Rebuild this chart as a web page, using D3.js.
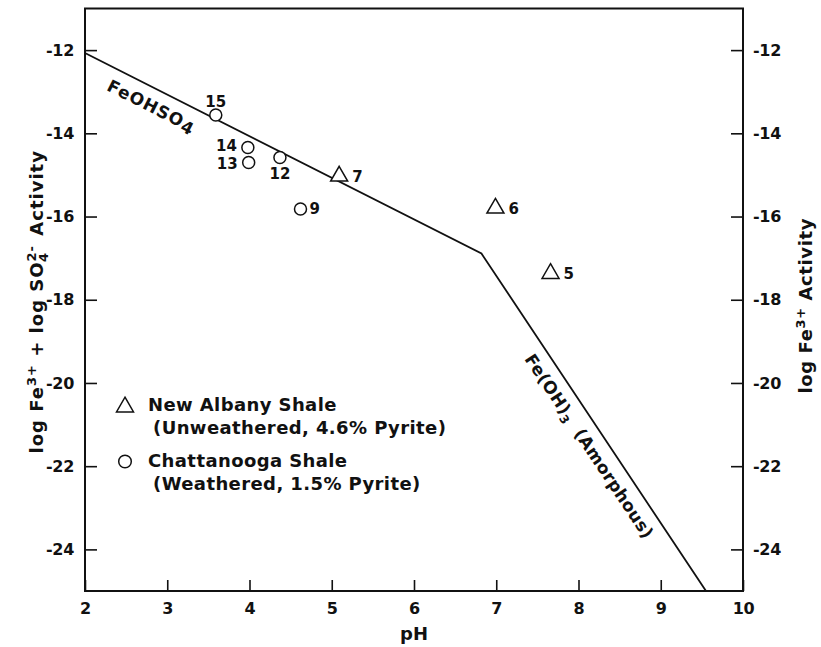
<!DOCTYPE html>
<html>
<head>
<meta charset="utf-8">
<script src="https://cdn.jsdelivr.net/npm/d3@7"></script>
<style>
  body { margin: 0; background: #fff; }
  text { font-family: "DejaVu Sans", sans-serif; font-weight: bold; fill: #111; }
</style>
</head>
<body>
<div id="chart"></div>
<script>
// data
var pH        = [3.59, 3.98, 3.99, 4.37, 4.62, 5.09, 6.99, 7.66];
var activity  = [-13.56, -14.34, -14.70, -14.58, -15.82, -15.03, -15.80, -17.37];
var sampleIds = ["15", "14", "13", "12", "9", "7", "6", "5"];
var shale     = ["C", "C", "C", "C", "C", "N", "N", "N"];   // C = Chattanooga, N = New Albany
var labelSide = ["top", "leftUp", "leftDown", "bottom", "right", "right", "right", "right"];

// stability boundary (FeOHSO4 then Fe(OH)3)
var boundaryPH  = [2, 6.82, 9.55];
var boundaryLog = [-12.07, -16.89, -25];

var xTicks = [2, 3, 4, 5, 6, 7, 8, 9, 10];
var yTicks = [-12, -14, -16, -18, -20, -22, -24];

// set the dimensions and margins of the graph
var margin = {top: 8.5, right: 78, bottom: 56, left: 85},
    width = 821 - margin.left - margin.right,
    height = 647 - margin.top - margin.bottom;

var svg = d3.select("#chart")
  .append("svg")
    .attr("width", 821)
    .attr("height", 647)
  .append("g")
    .attr("transform", "translate(" + margin.left + "," + margin.top + ")");

var x = d3.scaleLinear().domain([2, 10]).range([0, width]);
var y = d3.scaleLinear().domain([-25, -11]).range([height, 0]);

// axes, ticks pointing inside
var xAxis = svg.append("g")
  .attr("transform", "translate(0," + height + ")")
  .call(d3.axisBottom(x).tickValues(xTicks).tickSizeInner(-11).tickSizeOuter(0).tickPadding(12));

var yAxisL = svg.append("g")
  .call(d3.axisLeft(y).tickValues(yTicks).tickSizeInner(-12).tickSizeOuter(0).tickPadding(11)
    .tickFormat(function(d) { return "-" + Math.abs(d); }));

var yAxisR = svg.append("g")
  .attr("transform", "translate(" + width + ",0)")
  .call(d3.axisRight(y).tickValues(yTicks).tickSizeInner(-12).tickSizeOuter(0).tickPadding(10)
    .tickFormat(function(d) { return "-" + Math.abs(d); }));

svg.selectAll(".domain").remove();
svg.selectAll(".tick line").attr("stroke", "#111").attr("stroke-width", 1.6);
svg.selectAll(".tick text").style("font-size", "16px").attr("fill", "#111")
  .style("font-family", "'DejaVu Sans', sans-serif").style("font-weight", "bold")
  .style("letter-spacing", "-0.3px");

// frame
svg.append("rect")
  .attr("width", width)
  .attr("height", height)
  .attr("fill", "none")
  .attr("stroke", "#111")
  .attr("stroke-width", 2);

// boundary line
var boundary = boundaryPH.map(function(d, i) { return [d, boundaryLog[i]]; });
svg.append("path")
  .datum(boundary)
  .attr("fill", "none")
  .attr("stroke", "#111")
  .attr("stroke-width", 1.8)
  .attr("d", d3.line().x(function(d) { return x(d[0]); }).y(function(d) { return y(d[1]); }));

// labels along the line
function angleOf(a, b) {
  return Math.atan2(y(b[1]) - y(a[1]), x(b[0]) - x(a[0])) * 180 / Math.PI;
}
var t1 = svg.append("text")
  .attr("transform", "translate(" + x(2.81) + "," + y(-13.35) + ") rotate(" + angleOf(boundary[0], boundary[1]) + ")")
  .attr("text-anchor", "middle")
  .attr("dy", "0.35em")
  .style("font-size", "17px")
  .style("letter-spacing", "1px");
t1.append("tspan").text("FeOHSO");
t1.append("tspan").attr("dy", 3).text("4");

var t2 = svg.append("text")
  .attr("transform", "translate(" + x(8.13) + "," + y(-21.52) + ") rotate(" + angleOf(boundary[1], boundary[2]) + ")")
  .attr("text-anchor", "middle")
  .attr("dy", "0.35em")
  .style("font-size", "17px")
  .style("letter-spacing", "0.3px");
t2.append("tspan").text("Fe(OH)");
t2.append("tspan").attr("dy", 4).style("font-size", "12px").text("3");
t2.append("tspan").attr("dy", -4).text("\u00a0\u00a0(Amorphous)");

// markers
var tri = d3.symbol().type(d3.symbolTriangle).size(125);
var points = pH.map(function(d, i) {
  return {pH: d, act: activity[i], id: sampleIds[i], shale: shale[i], side: labelSide[i]};
});

svg.selectAll(".pt")
  .data(points)
  .enter()
  .append("path")
    .attr("class", "pt")
    .attr("transform", function(d) { return "translate(" + x(d.pH) + "," + y(d.act) + ")"; })
    .attr("d", function(d) { return d.shale == "N" ? tri() : d3.symbol().type(d3.symbolCircle).size(113)(); })
    .attr("fill", "white")
    .attr("stroke", "#111")
    .attr("stroke-width", 1.5);

var off = {top: [0, -13, "middle"], leftUp: [-11, -1.5, "end"], leftDown: [-11, 1.5, "end"],
           bottom: [0, 16, "middle"], right: [9, 0, "start"]};
svg.selectAll(".lbl")
  .data(points)
  .enter()
  .append("text")
    .attr("class", "lbl")
    .attr("x", function(d) { return x(d.pH) + off[d.side][0] + (d.shale == "N" ? 4 : 0); })
    .attr("y", function(d) { return y(d.act) + off[d.side][1]; })
    .attr("dy", "0.36em")
    .attr("text-anchor", function(d) { return off[d.side][2]; })
    .style("font-size", "15px")
    .text(function(d) { return d.id; });

// legend
var legend = svg.append("g").attr("transform", "translate(40,398.5)");
legend.append("path").attr("d", tri()).attr("fill", "white").attr("stroke", "#111").attr("stroke-width", 1.5);
legend.append("circle").attr("cx", 0).attr("cy", 54.5).attr("r", 6.3).attr("fill", "white").attr("stroke", "#111").attr("stroke-width", 1.5);
var legendLines = [
  ["New Albany Shale", 23, 4],
  ["(Unweathered, 4.6% Pyrite)", 28, 26.5],
  ["Chattanooga Shale", 23, 59.5],
  ["(Weathered, 1.5% Pyrite)", 28, 82.5]
];
legend.selectAll("text.leg")
  .data(legendLines)
  .enter()
  .append("text")
    .attr("class", "leg")
    .attr("x", function(d) { return d[1]; })
    .attr("y", function(d) { return d[2]; })
    .style("font-size", "18px")
    .style("letter-spacing", "0.4px")
    .text(function(d) { return d[0]; });

// axis titles
svg.append("text")
  .attr("x", width / 2)
  .attr("y", height + 49)
  .attr("text-anchor", "middle")
  .style("font-size", "18px")
  .text("pH");

var yl = svg.append("text")
  .attr("transform", "translate(-42," + (height / 2 + 2) + ") rotate(-90)")
  .attr("text-anchor", "middle")
  .style("font-size", "18px")
  .style("letter-spacing", "1px");
yl.append("tspan").text("log Fe");
yl.append("tspan").attr("dy", -7).style("font-size", "13px").text("3+");
yl.append("tspan").attr("dy", 7).text(" + log SO");
yl.append("tspan").attr("dy", -7).style("font-size", "13px").text("2-");
yl.append("tspan").attr("dx", -17).attr("dy", 12).style("font-size", "13px").text("4");
yl.append("tspan").attr("dx", 9).attr("dy", -5).text(" Activity");

var yr = svg.append("text")
  .attr("transform", "translate(" + (width + 69) + "," + (height / 2 + 6) + ") rotate(-90)")
  .attr("text-anchor", "middle")
  .style("font-size", "18px")
  .style("letter-spacing", "0.6px");
yr.append("tspan").text("log Fe");
yr.append("tspan").attr("dy", -7).style("font-size", "13px").text("3+");
yr.append("tspan").attr("dy", 7).text(" Activity");
</script>
</body>
</html>
